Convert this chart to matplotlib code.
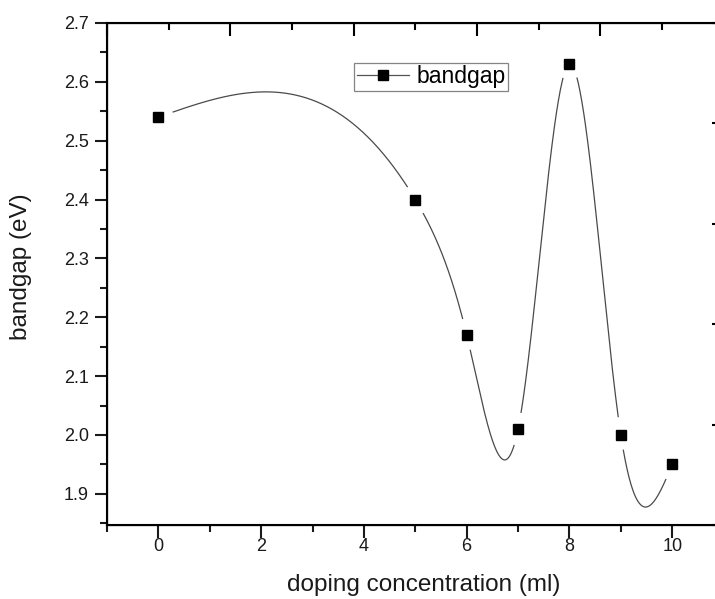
import numpy as np
import matplotlib
matplotlib.use('Agg')
from matplotlib import pyplot as plt
from matplotlib.ticker import MultipleLocator

plt.rcParams['font.family'] = ['Liberation Sans', 'DejaVu Sans']

# measured band gap vs. doping amount
doping_ml = [0, 5, 6, 7, 8, 9, 10]
bandgap_ev = [2.54, 2.40, 2.17, 2.01, 2.63, 2.00, 1.95]


def natural_spline(xs, ys, n=800):
    # natural cubic spline through the points, evaluated on a fine grid
    xs = np.asarray(xs, float)
    ys = np.asarray(ys, float)
    k = len(xs)
    h = np.diff(xs)
    A = np.zeros((k, k))
    b = np.zeros(k)
    A[0, 0] = A[-1, -1] = 1.0
    for i in range(1, k - 1):
        A[i, i - 1] = h[i - 1]
        A[i, i] = 2 * (h[i - 1] + h[i])
        A[i, i + 1] = h[i]
        b[i] = 6 * ((ys[i + 1] - ys[i]) / h[i] - (ys[i] - ys[i - 1]) / h[i - 1])
    m = np.linalg.solve(A, b)
    xx = np.linspace(xs[0], xs[-1], n)
    idx = np.clip(np.searchsorted(xs, xx) - 1, 0, k - 2)
    x0, x1 = xs[idx], xs[idx + 1]
    hh = x1 - x0
    t0, t1 = x1 - xx, xx - x0
    yy = (m[idx] * t0 ** 3 + m[idx + 1] * t1 ** 3) / (6 * hh) \
        + (ys[idx] / hh - m[idx] * hh / 6) * t0 \
        + (ys[idx + 1] / hh - m[idx + 1] * hh / 6) * t1
    return xx, yy


fig = plt.figure(figsize=(7.15, 5.99), dpi=100)
ax = fig.add_axes([107 / 715, 74 / 599, 616.6 / 715, 502 / 599])
ax.set_xlim(-1, 11)
ax.set_ylim(1.847, 2.7)

# spline with small gaps around each symbol
sx, sy = natural_spline(doping_ml, bandgap_ev)
pts = ax.transData.transform(np.column_stack([sx, sy]))
marks = ax.transData.transform(np.column_stack([doping_ml, bandgap_ev]))
gap = np.zeros(len(sx), bool)
for mx, my in marks:
    gap |= np.hypot(pts[:, 0] - mx, pts[:, 1] - my) < 15
sy_gap = np.where(gap, np.nan, sy)
ax.plot(sx, sy_gap, color='#4a4a4a', lw=0.9)
ax.plot(doping_ml, bandgap_ev, ls='none', marker='s', ms=7.5, color='black')

# legend entry drawn as a line with a symbol in the middle
ax.plot([], [], color='#555555', lw=0.9, marker='s', ms=7.5, mfc='black',
        mec='black', label='bandgap')
leg = ax.legend(loc='upper left', bbox_to_anchor=(0.4006, 0.921), fontsize=16.5,
                frameon=True, fancybox=False, edgecolor='#666666',
                handlelength=2.3, handletextpad=0.3, borderpad=0.12,
                borderaxespad=0)
leg.get_frame().set_linewidth(0.9)

ax.xaxis.set_major_locator(MultipleLocator(2))
ax.xaxis.set_minor_locator(MultipleLocator(1))
ax.yaxis.set_major_locator(MultipleLocator(0.1))
ax.yaxis.set_minor_locator(MultipleLocator(0.05))
ax.tick_params(which='both', direction='out', width=1.5, top=False, right=False,
               labelsize=13, colors='#1a1a1a')
ax.tick_params(which='major', length=9)
ax.tick_params(which='minor', length=5)
ax.tick_params(axis='x', pad=0.5)
ax.tick_params(axis='y', pad=4)
ax.set_xlabel('doping concentration (ml)', fontsize=17.5, color='#1a1a1a')
ax.set_ylabel('bandgap (eV)', fontsize=17.5, color='#1a1a1a')
ax.xaxis.set_label_coords(0.513, -0.098)
ax.yaxis.set_label_coords(-0.122, 0.515)
for s in ax.spines.values():
    s.set_linewidth(1.5)

# unlabeled opposite axes with their own tick spacing
top = ax.twiny()
top.set_xlim(0, 5)
top.xaxis.set_major_locator(MultipleLocator(1))
top.xaxis.set_minor_locator(MultipleLocator(0.5))
top.tick_params(which='both', direction='in', width=1.5, labeltop=False)
top.tick_params(which='major', length=9)
top.tick_params(which='minor', length=5)
right = ax.twinx()
right.set_ylim(0, 5)
right.yaxis.set_major_locator(MultipleLocator(1))
right.yaxis.set_minor_locator(MultipleLocator(0.5))
right.tick_params(which='both', direction='in', width=1.5, labelright=False)
right.tick_params(which='major', length=9)
right.tick_params(which='minor', length=5)

fig.savefig('out.png', dpi=100)
